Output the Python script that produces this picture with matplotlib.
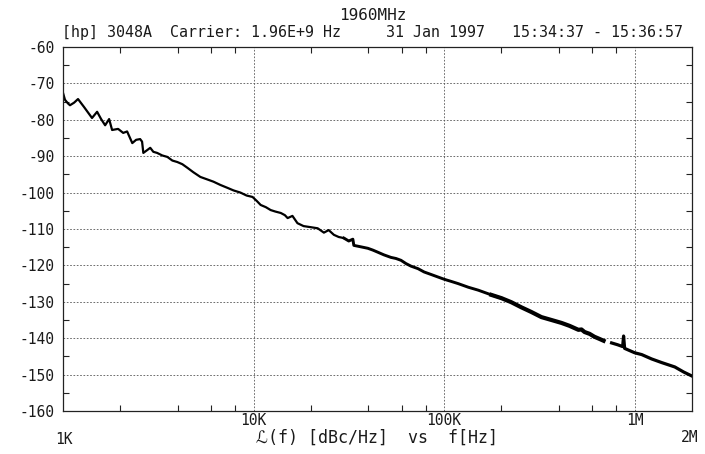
import numpy as np
import matplotlib
matplotlib.use("Agg")
import matplotlib.pyplot as plt

# ----- DATA -----
freq_hz = [
    1000, 1024, 1062, 1088, 1143, 1199, 1290, 1420, 1510, 1585, 1664, 1746, 1810,
    1946, 2070, 2170, 2310, 2420, 2540, 2600, 2640, 2770, 2870, 2980, 3120, 3320,
    3530, 3750, 3980, 4230, 4500, 4830, 5260, 5660, 6160, 6700, 7300, 7850, 8540,
    9190, 9880, 10400, 10900, 11600, 12300, 13000, 13900, 14600, 15100, 16000,
    17000, 18300, 19950, 21700, 23400, 24800, 26400, 28000, 29800, 31600, 33200,
    33600, 36600, 39800, 42300, 45000, 48300, 52600, 55900, 59400, 63100, 67000,
    73000, 78500, 85500, 93000, 100000, 109000, 118500, 134000, 151000, 177000,
    200000, 225000, 254000, 287000, 324000, 366000, 413000, 455000, 507000,
    526000, 546000, 580000, 615000, 654000, 687000,
    720000,  # gap in the trace
    757000, 814000, 865000, 875000, 886000, 941000, 1000000, 1089000, 1228000,
    1387000, 1625000, 1810000, 2000000,
]
level_dbc = [
    -72.6, -74.5, -75.5, -76.0, -75.3, -74.3, -76.5, -79.5, -77.8, -79.8, -81.5,
    -79.8, -82.8, -82.5, -83.6, -83.2, -86.4, -85.5, -85.3, -86.0, -89.1, -88.3,
    -87.7, -88.8, -89.1, -89.8, -90.2, -91.2, -91.6, -92.2, -93.2, -94.4, -95.7,
    -96.3, -97.0, -97.9, -98.7, -99.4, -100.0, -100.8, -101.2, -102.3, -103.4,
    -104.0, -104.8, -105.2, -105.6, -106.2, -107.0, -106.4, -108.4, -109.2,
    -109.5, -109.8, -111.0, -110.3, -111.6, -112.2, -112.5, -113.3, -112.8,
    -114.5, -114.9, -115.3, -115.8, -116.4, -117.1, -117.8, -118.1, -118.6,
    -119.5, -120.2, -120.9, -121.8, -122.5, -123.2, -123.8, -124.4, -125.0,
    -126.0, -126.8, -128.1, -129.0, -130.1, -131.5, -132.8, -134.2, -135.0,
    -135.8, -136.6, -137.7, -137.6, -138.3, -138.8, -139.6, -140.2, -140.7,
    np.nan,
    -141.3, -141.8, -142.3, -139.4, -142.8, -143.4, -144.0, -144.5, -145.7,
    -146.7, -147.9, -149.3, -150.4,
]

y_ticks = list(range(-160, -59, 10))
y_labels = ["-160", "-150", "-140", "-130", "-120", "-110", "-100", "-90", "-80", "-70", "-60"]
x_grid = [1e4, 1e5, 1e6]
x_grid_labels = ["10K", "100K", "1M"]
x_minor = [2e3, 4e3, 6e3, 8e3, 2e4, 4e4, 6e4, 8e4, 2e5, 4e5, 6e5, 8e5]

MONO = ["DejaVu Sans Mono", "DejaVu Sans", "Noto Sans"]
INK = "#1a1a1a"
FS = 10.5

f = np.array(freq_hz, dtype=float)
L = np.array(level_dbc, dtype=float)

fig = plt.figure(figsize=(7.05, 4.54), dpi=100)
W, H = 705, 454
ax = fig.add_axes([63 / W, 1 - 411 / H, (692 - 63) / W, (411 - 47) / H])

# trace gets visibly denser (thicker) at higher offsets
segs = [(0, 30000, 1.6), (30000, 200000, 2.1), (200000, 700000, 3.0), (700000, 3e6, 2.3)]
for lo, hi, lw in segs:
    idx = np.where((f >= lo) & (f <= hi))[0]
    if idx[0] > 0:
        idx = np.r_[idx[0] - 1, idx]   # join to previous segment
    ax.plot(f[idx], L[idx], color="black", lw=lw, solid_joinstyle="round")

ax.set_xscale("log")
ax.set_xlim(1000, 2e6)
ax.set_ylim(-160, -60)

ax.set_xticks(x_grid)
ax.set_xticklabels([])
ax.set_xticks(x_minor, minor=True)
ax.xaxis.set_minor_formatter(plt.NullFormatter())
ax.set_yticks(y_ticks)
ax.set_yticklabels(y_labels, family=MONO, fontsize=FS, color=INK)
ax.set_yticks(list(range(-155, -60, 10)), minor=True)

ax.tick_params(which="major", length=0, pad=6)
ax.tick_params(which="minor", direction="in", length=4, width=0.8, color="#222222",
               top=True, bottom=True, left=True, right=True)

ax.grid(which="major", color="#555555", linestyle=(0, (2, 2)), linewidth=0.6)
for s in ax.spines.values():
    s.set_linewidth(0.9)
    s.set_color("#222222")

# x labels, placed the way the plotter puts them
for xv, lab in zip(x_grid, x_grid_labels):
    ax.annotate(lab, xy=(xv, -160), xytext=(0, -7), textcoords="offset points",
                ha="center", va="center", family=MONO, fontsize=FS, color=INK)
fig.text(64 / W, 1 - 440 / H, "1K", ha="center", va="center", family=MONO, fontsize=FS, color=INK)
fig.text(690 / W, 1 - 438 / H, "2M", ha="center", va="center", family=MONO, fontsize=FS, color=INK)

fig.text(377 / W, 1 - 438 / H, "\u2112(f) [dBc/Hz]  vs  f[Hz]", ha="center", va="center",
         family=MONO, fontsize=12, color=INK)

# header
fig.text(373 / W, 1 - 15 / H, "1960MHz", ha="center", va="center",
         family=MONO, fontsize=11.5, color=INK)
fig.text(62 / W, 1 - 32 / H,
         "[hp] 3048A  Carrier: 1.96E+9 Hz     31 Jan 1997   15:34:37 - 15:36:57",
         ha="left", va="center", family=MONO, fontsize=10.8, color=INK)

fig.savefig("out.png", dpi=100)
